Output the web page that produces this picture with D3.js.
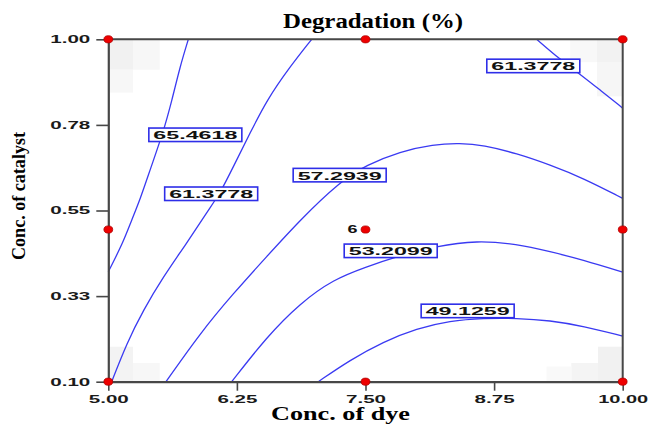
<!DOCTYPE html>
<html>
<head>
<meta charset="utf-8">
<script src="https://cdn.jsdelivr.net/npm/d3@7"></script>
<style>
  html, body { margin: 0; padding: 0; background: #fff; }
  svg { display: block; }
</style>
</head>
<body>
<svg id="chart" width="649" height="431"></svg>
<script>
// Axis ticks
const dyeTicks = [5, 6.25, 7.5, 8.75, 10];
const dyeTickLabels = ["5.00", "6.25", "7.50", "8.75", "10.00"];
const catTicks = [0.1, 0.325, 0.55, 0.775, 1.0];
const catTickLabels = ["0.10", "0.33", "0.55", "0.78", "1.00"];

// Contour levels of the degradation response (%)
const levels = [65.4618, 61.3778, 57.2939, 53.2099, 49.1259, 61.3778];

// Contour paths as [dye, catalyst] pairs, one list per level above
const contour65 = [[5.778,1.000],[5.697,0.928],[5.619,0.840],[5.532,0.754],[5.415,0.664],[5.308,0.578],[5.227,0.525],[5.143,0.465],[5.000,0.389]];
const contour61a = [[6.977,1.000],[6.766,0.928],[6.540,0.840],[6.377,0.753],[6.215,0.665],[6.086,0.595],[5.972,0.551],[5.762,0.464],[5.535,0.376],[5.340,0.288],[5.179,0.201],[5.033,0.100]];
const contour57 = [[5.561,0.100],[5.891,0.227],[6.215,0.332],[6.540,0.429],[6.863,0.525],[7.252,0.626],[7.512,0.670],[7.835,0.705],[8.159,0.724],[8.419,0.727],[8.645,0.722],[8.970,0.700],[9.293,0.670],[9.617,0.635],[10.000,0.582]];
const contour53 = [[6.200,0.100],[6.540,0.218],[6.863,0.306],[7.187,0.369],[7.512,0.402],[7.770,0.426],[8.198,0.457],[8.581,0.471],[8.970,0.462],[9.293,0.442],[9.617,0.420],[10.000,0.388]];
const contour49 = [[7.041,0.100],[7.349,0.157],[7.673,0.205],[7.998,0.240],[8.321,0.260],[8.645,0.267],[8.970,0.267],[9.293,0.261],[9.617,0.246],[10.000,0.220]];
const contour61b = [[9.164,1.000],[9.391,0.947],[9.568,0.912],[9.779,0.867],[10.000,0.819]];
const contourPaths = [contour65, contour61a, contour57, contour53, contour49, contour61b];

// Where each contour value is printed, [dye, catalyst]
const labelSpots = [[5.846,0.749],[6.000,0.594],[7.249,0.643],[7.745,0.444],[8.493,0.286],[9.131,0.930]];

// Design points (factorial, axial and centre runs)
const designPoints = [[5,0.1],[7.5,0.1],[10,0.1],[5,0.5],[10,0.5],[5,1],[7.5,1],[10,1],[7.5,0.5]];
const centreRuns = "6";

// Faint prediction-error shading cells: [dye0, dye1, cat0, cat1, grey]
const shadeCells = [
  [5.00, 5.24, 0.92, 1.00, "#f1f1f1"],
  [5.00, 5.24, 0.86, 0.92, "#f7f7f7"],
  [5.24, 5.50, 0.92, 1.00, "#f7f7f7"],
  [5.00, 5.24, 0.10, 0.192, "#f3f3f3"],
  [5.24, 5.50, 0.10, 0.149, "#f7f7f7"],
  [9.76, 10.0, 0.10, 0.192, "#f1f1f1"],
  [9.50, 9.76, 0.10, 0.149, "#f4f4f4"],
  [9.26, 9.50, 0.10, 0.140, "#f9f9f9"],
  [9.75, 10.0, 0.85, 1.00, "#f6f6f6"],
  [9.75, 10.0, 0.94, 1.00, "#f2f2f2"],
  [9.49, 9.75, 0.94, 1.00, "#f8f8f8"]
];

const svg = d3.select("#chart");
const x = d3.scaleLinear().domain([5, 10]).range([108.3, 622.7]);
const y = d3.scaleLinear().domain([0.1, 1.0]).range([381.7, 39.3]);

const axisColor = "#474747";
const lineBlue = "#3a3af2";

// shading
svg.append("g").selectAll("rect").data(shadeCells).join("rect")
  .attr("x", d => x(d[0])).attr("width", d => x(d[1]) - x(d[0]))
  .attr("y", d => y(d[3])).attr("height", d => y(d[2]) - y(d[3]))
  .attr("fill", d => d[4]);

// contour lines
const line = d3.line().x(d => x(d[0])).y(d => y(d[1])).curve(d3.curveBasis);
svg.append("g").selectAll("path").data(contourPaths).join("path")
  .attr("d", line)
  .attr("fill", "none")
  .attr("stroke", lineBlue)
  .attr("stroke-width", 1.3);

// contour value boxes
const boxW = 93, boxH = 13.5;
const lab = svg.append("g").selectAll("g").data(levels).join("g")
  .attr("transform", (d, i) => `translate(${x(labelSpots[i][0])},${y(labelSpots[i][1])})`);
lab.append("rect")
  .attr("x", -boxW / 2).attr("y", -boxH / 2)
  .attr("width", boxW).attr("height", boxH)
  .attr("fill", "#fff").attr("stroke", "#2e2ee8").attr("stroke-width", 1.6);
lab.append("text")
  .attr("text-anchor", "middle").attr("y", 4.4)
  .attr("font-family", "Liberation Sans, Arial, sans-serif")
  .attr("font-size", 11.5).attr("font-weight", "bold").attr("fill", "#111")
  .attr("textLength", 84).attr("lengthAdjust", "spacingAndGlyphs")
  .text(d => d.toFixed(4));

// axes
const yAxis = d3.axisLeft(y).tickValues(catTicks)
  .tickFormat((d, i) => catTickLabels[i]).tickSize(12).tickSizeOuter(0).tickPadding(6);
const xAxis = d3.axisBottom(x).tickValues(dyeTicks)
  .tickFormat((d, i) => dyeTickLabels[i]).tickSize(9).tickSizeOuter(0).tickPadding(4.5);

const gy = svg.append("g").attr("transform", `translate(${x(5)},0)`).call(yAxis);
const gx = svg.append("g").attr("transform", `translate(0,${y(0.1)})`).call(xAxis);
[gx, gy].forEach(g => {
  g.select(".domain").attr("stroke", axisColor).attr("stroke-width", 2.2);
  g.selectAll(".tick line").attr("stroke", axisColor).attr("stroke-width", 1.6);
  g.selectAll(".tick text")
    .attr("font-family", "Liberation Sans, Arial, sans-serif")
    .attr("font-size", 11).attr("font-weight", "bold").attr("fill", "#1a1a1a")
    .attr("lengthAdjust", "spacingAndGlyphs")
    .attr("textLength", (d, i, n) => n[i].textContent.length * 10);
});
gy.selectAll(".tick text").attr("dy", "0.3em");

// top and right borders
svg.append("path")
  .attr("d", `M${x(5)},${y(1)}H${x(10)}V${y(0.1)}`)
  .attr("fill", "none").attr("stroke", axisColor).attr("stroke-width", 2);

// design points
svg.append("g").selectAll("ellipse").data(designPoints).join("ellipse")
  .attr("cx", d => x(d[0])).attr("cy", d => y(d[1]))
  .attr("rx", 4.4).attr("ry", 3.6)
  .attr("fill", "#ee0000").attr("stroke", "#b00000").attr("stroke-width", 0.8);
svg.append("text")
  .attr("x", x(7.5) - 8).attr("y", y(0.5) + 3.5)
  .attr("text-anchor", "end")
  .attr("font-family", "Liberation Sans, Arial, sans-serif")
  .attr("font-size", 11.5).attr("font-weight", "bold").attr("fill", "#111")
  .attr("textLength", 10).attr("lengthAdjust", "spacingAndGlyphs")
  .text(centreRuns);

// titles
const serif = "Liberation Serif, Times New Roman, serif";
svg.append("text")
  .attr("x", 283).attr("y", 28)
  .attr("font-family", serif).attr("font-size", 20).attr("font-weight", "bold")
  .attr("textLength", 180).attr("lengthAdjust", "spacingAndGlyphs")
  .text("Degradation (%)");
svg.append("text")
  .attr("x", 271).attr("y", 420)
  .attr("font-family", serif).attr("font-size", 18.5).attr("font-weight", "bold")
  .attr("textLength", 139).attr("lengthAdjust", "spacingAndGlyphs")
  .text("Conc. of dye");
svg.append("text")
  .attr("transform", "translate(25,196) rotate(-90)")
  .attr("text-anchor", "middle")
  .attr("font-family", serif).attr("font-size", 19).attr("font-weight", "bold")
  .attr("textLength", 128).attr("lengthAdjust", "spacingAndGlyphs")
  .text("Conc. of catalyst");
</script>
</body>
</html>
